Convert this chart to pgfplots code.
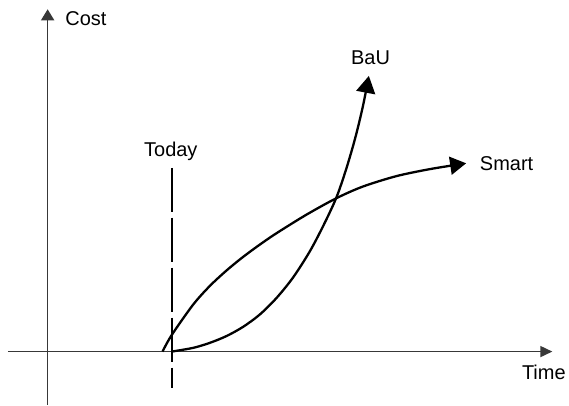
\documentclass[border=0pt]{standalone}
\usepackage{pgfplots}
\pgfplotsset{compat=1.18}
\usetikzlibrary{arrows.meta}
\usepackage{fontspec}
\setmainfont{Liberation Sans}
\begin{document}
\begin{tikzpicture}[font=\fontsize{20}{24}\selectfont]
\begin{axis}[
  width=569pt, height=405pt, scale only axis,
  hide axis, clip=false,
  xmin=-47.7, xmax=521.3, ymin=-53, ymax=352,
]
% frame for the bounding box
\path (rel axis cs:0,0) rectangle (rel axis cs:1,1);
% axes
\addplot[black!78, line width=1.6pt, -{Triangle[length=12pt,width=11pt]}]
  coordinates {(-39.7,0) (505.3,0)};
\addplot[black!78, line width=1.6pt, -{Triangle[length=11pt,width=13pt]}]
  coordinates {(0,-53) (0,342.7)};
% today
\addplot[black, line width=2pt, dash pattern=on 44pt off 6pt]
  coordinates {(124.3,184) (124.3,-36)};
% smart
\addplot[black, line width=2.3pt, smooth, -{Triangle[length=16pt,width=18pt]}]
  coordinates {(115,0) (124.3,16.7) (145.6,46.9) (162.3,65.6) (179,81.1)
               (195.6,94.7) (212.3,107) (229,118.4) (259,137) (289,153.5)
               (315.6,165.2) (349,175.6) (382.3,182.6) (419,188.5)};
% business as usual
\addplot[black, line width=2.3pt, smooth, -{Triangle[length=17pt,width=19pt]}]
  coordinates {(124.3,0) (145.6,3.7) (162.3,8.7) (179,15.5) (195.6,24.7)
               (212.3,37) (229,53.5) (245.6,74) (262.3,100) (276,126)
               (289,154) (299,183) (308,214) (315.5,245) (321.6,276)};
\node[anchor=west] at (axis cs:14.3,333) {Cost};
\node at (axis cs:496.8,-21) {Time};
\node at (axis cs:123.3,200) {Today};
\node at (axis cs:323.3,294) {BaU};
\node[anchor=west] at (axis cs:429.3,188) {Smart};
\end{axis}
\end{tikzpicture}
\end{document}
